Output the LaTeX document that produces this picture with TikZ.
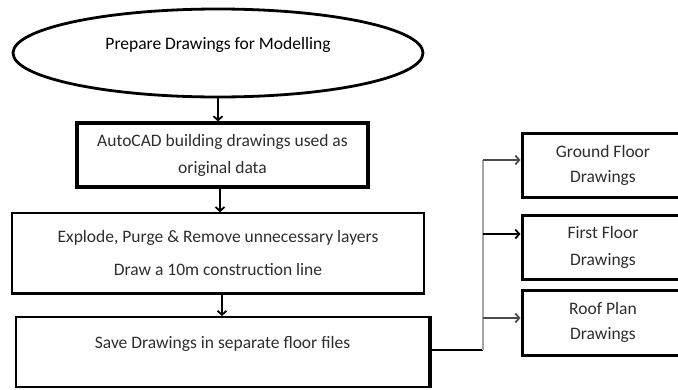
\documentclass[tikz,border=0pt]{standalone}
\usepackage{fontspec}
\setmainfont{Carlito}
\usetikzlibrary{shapes.geometric,arrows.meta}
\begin{document}
\begin{tikzpicture}[x=1pt,y=-1pt,
  txt/.style={font=\fontsize{17.5}{26}\selectfont, text=black!82, align=center, inner sep=0pt},
  box/.style={draw, rectangle, txt},
  tip/.style={-{Straight Barb[length=4pt,width=9pt,line width=1.8pt]}},
  conn/.style={tip, line width=2pt, draw=black},
  branch/.style={tip, line width=2pt}]
\useasboundingbox (0,0) rectangle (678,389);
\fill[white] (0,0) rectangle (678,389);
% main column
\node[ellipse, draw, line width=2.8pt, minimum width=410, minimum height=88, inner sep=0pt,
      font=\fontsize{17.5}{26}\selectfont, text=black, align=center] (ell) at (218,53)
      {Prepare Drawings for Modelling\\[-6pt]~};
\node[box, line width=3.2pt, minimum width=291, minimum height=64] (box1) at (222.5,155)
      {AutoCAD building drawings used as\\[1pt]original data};
\node[box, line width=1.6pt, minimum width=412, minimum height=80] (box2) at (218,253)
      {Explode, Purge \& Remove unnecessary layers\\[7pt]Draw a 10m construction line};
\node[box, line width=2pt, minimum width=413, minimum height=70] (box3) at (222.5,352)
      {Save Drawings in separate floor files\\[-7pt]~};
% heavier edges
\draw[line width=3pt] (box2.south west) -- (box2.south east);
\draw[line width=3.2pt] (box3.north east) -- (box3.south east);
% right column
\node[box, line width=3pt, minimum width=162, minimum height=64] (ground) at (603,165)
      {Ground Floor\\[-1pt]Drawings};
\node[box, line width=3pt, minimum width=162, minimum height=64] (first) at (603,247)
      {First Floor\\[1pt]Drawings};
\node[box, line width=3pt, minimum width=162, minimum height=65] (roof) at (603,322.5)
      {Roof Plan\\[-1pt]Drawings};
% vertical arrows
\draw[conn] (ell.south) -- (ell.south |- box1.north);
\draw[conn] ([xshift=-2.5pt]box1.south) -- ([xshift=-2.5pt]box1.south |- box2.north);
\draw[conn] ([xshift=4pt]box2.south) -- ([xshift=4pt]box2.south |- box3.north);
% spine
\coordinate (sb) at (483,350);
\coordinate (b1) at (483,160);
\coordinate (b2) at (483,234);
\coordinate (b3) at (483,318);
\draw[line width=2pt] (box3.east |- sb) -- (sb);
\draw[line width=2.4pt, gray!70] (b1) -- (sb);
\draw[branch, draw=black!70] (b1) -- (b1 -| ground.west);
\draw[branch, draw=black] (b2) -- (b2 -| first.west);
\draw[branch, draw=black!70] (b3) -- (b3 -| roof.west);
\end{tikzpicture}
\end{document}
